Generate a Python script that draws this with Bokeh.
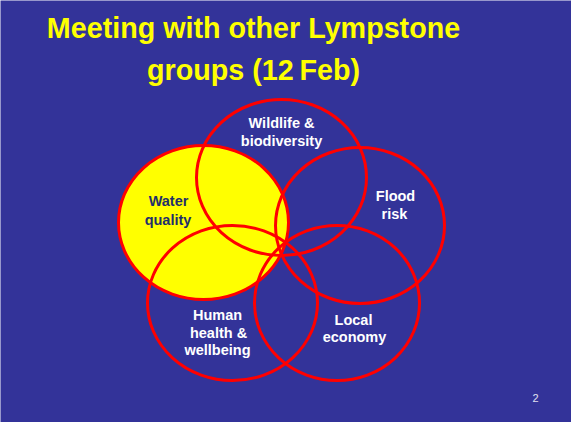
from bokeh.plotting import figure
from bokeh.models import Range1d, ColumnDataSource
from bokeh.core.properties import value
from bokeh.embed import file_html
from bokeh.resources import INLINE

# Venn-like circles (centre x, centre y, width, height) in slide pixels
circle_names = ["Water quality", "Wildlife & biodiversity", "Flood risk",
                "Human health & wellbeing", "Local economy"]
circle_x = [211, 289, 367.5, 240, 344.5]
circle_y = [230, 185, 233, 310.5, 310.5]
circle_w = [170, 170, 169, 170, 165]
circle_h = [154, 156, 156, 155, 155]
circle_fill = ["#FFFF00", None, None, None, None]

# Label lines
label_text = ["Wildlife &", "biodiversity", "Flood", "risk", "Human", "health &",
              "wellbeing", "Local", "economy"]
label_x = [289, 289, 403, 402, 225, 226, 225, 361, 362]
label_y = [130, 148, 203, 221, 322, 340, 357, 327, 344]

water_text = ["Water", "quality"]
water_x = [176, 175.5]
water_y = [208, 227]

title_lines = ["Meeting with other Lympstone", "groups (12\u2009Feb)"]
title_x = [261, 261]
title_y = [35, 77]

p = figure(width=571, height=422, x_range=Range1d(8, 579), y_range=Range1d(430, 8),
           output_backend="svg", toolbar_location=None, min_border=0,
           background_fill_color="#333399", border_fill_color="#333399")
p.axis.visible = False
p.grid.visible = False
p.outline_line_color = None

# yellow filled ellipse first
p.ellipse(x=[circle_x[0]], y=[circle_y[0]], width=[circle_w[0]], height=[circle_h[0]],
          fill_color="#FFFF00", line_color=None)
# outlines
p.ellipse(x=circle_x, y=circle_y, width=circle_w, height=circle_h,
          fill_color=None, line_color="#FF0000", line_width=3)

p.text(x=title_x, y=title_y, text=title_lines, text_align="center", text_baseline="middle",
       text_color="#FFFF00", text_font=value("Liberation Sans"), text_font_style="bold",
       text_font_size="28.7px")

p.text(x=label_x, y=label_y, text=label_text, text_align="center", text_baseline="middle",
       text_color="#FFFFFF", text_font=value("Liberation Sans"), text_font_style="bold",
       text_font_size="14.5px")

p.text(x=water_x, y=water_y, text=water_text, text_align="center", text_baseline="middle",
       text_color="#1f2f6b", text_font=value("Liberation Sans"), text_font_style="bold",
       text_font_size="14.5px")

p.text(x=[543], y=[405], text=["2"], text_align="center", text_baseline="middle",
       text_color="#E0E0F0", text_font=value("Liberation Sans"),
       text_font_size="11px")

open("out.html", "w").write(file_html(p, INLINE))
